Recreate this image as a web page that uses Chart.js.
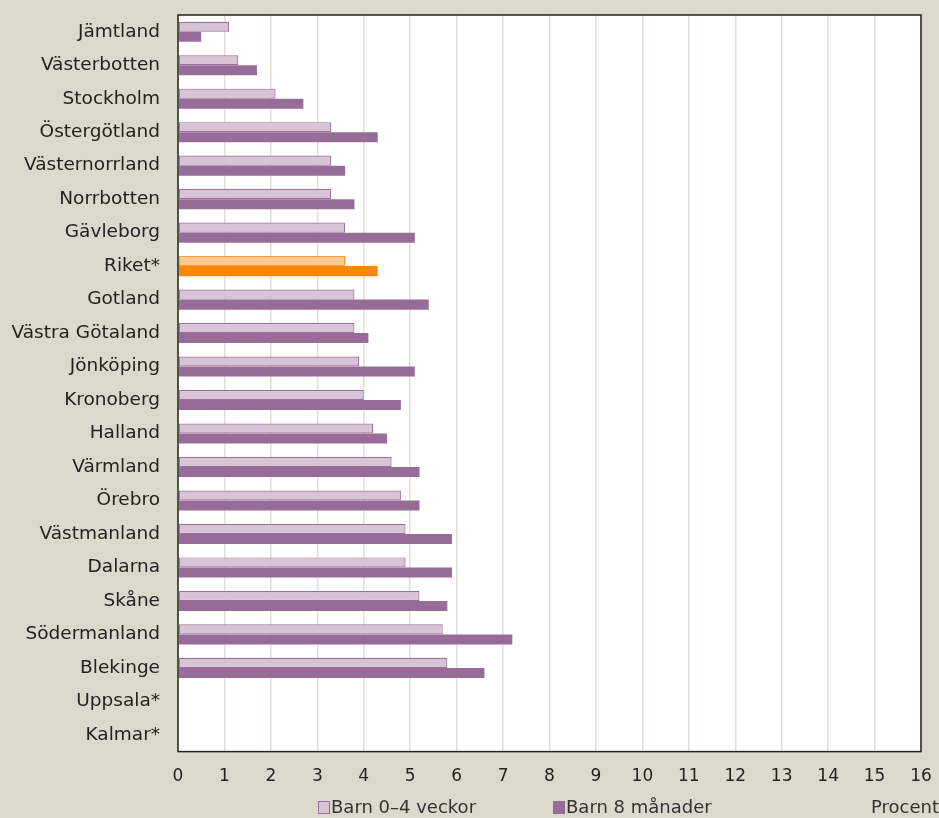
<!DOCTYPE html>
<html lang="sv">
<head>
  <meta charset="UTF-8" />
  <title>Barn per län</title>
  <script src="https://cdn.jsdelivr.net/npm/chart.js"></script>
  <style>
    html, body { margin: 0; padding: 0; background: #ddd8cc; }
    #wrap { width: 939px; height: 818px; }
  </style>
</head>
<body>
<div id="wrap"><canvas id="chart" width="939" height="818"></canvas></div>
<script>
  const categories = ['Jämtland', 'Västerbotten', 'Stockholm', 'Östergötland', 'Västernorrland',
    'Norrbotten', 'Gävleborg', 'Riket*', 'Gotland', 'Västra Götaland', 'Jönköping', 'Kronoberg',
    'Halland', 'Värmland', 'Örebro', 'Västmanland', 'Dalarna', 'Skåne', 'Södermanland',
    'Blekinge', 'Uppsala*', 'Kalmar*'];
  const weeks0to4 = [1.1, 1.3, 2.1, 3.3, 3.3, 3.3, 3.6, 3.6, 3.8, 3.8, 3.9, 4.0,
    4.2, 4.6, 4.8, 4.9, 4.9, 5.2, 5.7, 5.8, null, null];
  const months8 = [0.5, 1.7, 2.7, 4.3, 3.6, 3.8, 5.1, 4.3, 5.4, 4.1, 5.1, 4.8,
    4.5, 5.2, 5.2, 5.9, 5.9, 5.8, 7.2, 6.6, null, null];
  const seriesNames = ['Barn 0–4 veckor', 'Barn 8 månader'];
  const xTicks = [0, 1, 2, 3, 4, 5, 6, 7, 8, 9, 10, 11, 12, 13, 14, 15, 16];

  const FONT = "'DejaVu Sans', sans-serif";
  const lightFill = '#d7c4d6', lightEdge = '#9c6f9b';
  const darkFill = '#986c98';
  const riketLight = '#fecb96', riketEdge = '#ff9a33', riketDark = '#ff8800';
  const isRiket = c => c === 'Riket*';

  // white plot area + frame, legend and unit label
  const frame = {
    id: 'frame',
    beforeDraw(chart) {
      const { ctx, chartArea: a } = chart;
      ctx.save();
      ctx.fillStyle = '#ffffff';
      ctx.fillRect(a.left, a.top, a.right - a.left, a.bottom - a.top);
      ctx.restore();
    },
    afterDraw(chart) {
      const { ctx, chartArea: a } = chart;
      ctx.save();
      ctx.strokeStyle = '#222';
      ctx.lineWidth = 1.5;
      ctx.strokeRect(a.left, a.top, a.right - a.left, a.bottom - a.top);

      ctx.font = '18px ' + FONT;
      ctx.textBaseline = 'middle';
      const y = 808;
      ctx.fillStyle = lightFill;
      ctx.strokeStyle = lightEdge;
      ctx.lineWidth = 1;
      ctx.fillRect(318.5, y - 6.5, 11, 12);
      ctx.strokeRect(318.5, y - 6.5, 11, 12);
      ctx.fillStyle = '#333';
      ctx.fillText(seriesNames[0], 331, y);
      ctx.fillStyle = darkFill;
      ctx.fillRect(553, y - 7, 12, 13);
      ctx.fillStyle = '#333';
      ctx.fillText(seriesNames[1], 566, y);
      ctx.textAlign = 'right';
      ctx.fillText('Procent', 939, y);
      ctx.restore();
    }
  };

  new Chart(document.getElementById('chart'), {
    type: 'bar',
    data: {
      labels: categories,
      datasets: [
        {
          label: seriesNames[0],
          data: weeks0to4,
          backgroundColor: categories.map(c => isRiket(c) ? riketLight : lightFill),
          borderColor: categories.map(c => isRiket(c) ? riketEdge : lightEdge),
          borderWidth: 1.2,
          borderSkipped: false,
          categoryPercentage: 0.6,
          barPercentage: 1.0
        },
        {
          label: seriesNames[1],
          data: months8,
          backgroundColor: categories.map(c => isRiket(c) ? riketDark : darkFill),
          borderWidth: 0,
          categoryPercentage: 0.6,
          barPercentage: 1.0
        }
      ]
    },
    options: {
      indexAxis: 'y',
      responsive: false,
      animation: false,
      layout: { padding: { top: 15, right: 18, bottom: 16, left: 0 } },
      plugins: {
        legend: { display: false },
        tooltip: { enabled: false }
      },
      scales: {
        x: {
          min: 0, max: 16,
          afterBuildTicks: s => { s.ticks = xTicks.map(v => ({ value: v })); },
          afterFit: s => { s.paddingLeft = 0; s.paddingRight = 0; },
          grid: { color: '#e3ded4', lineWidth: 1.5, drawTicks: false },
          border: { display: false },
          ticks: { color: '#222', font: { family: FONT, size: 17 }, padding: 15 }
        },
        y: {
          afterFit: s => { s.width = 178; s.paddingTop = 0; s.paddingBottom = 0; },
          grid: { display: false, drawTicks: false },
          border: { display: false },
          ticks: { color: '#222', font: { family: FONT, size: 18.5 }, padding: 18 }
        }
      }
    },
    plugins: [frame]
  });
</script>
</body>
</html>
